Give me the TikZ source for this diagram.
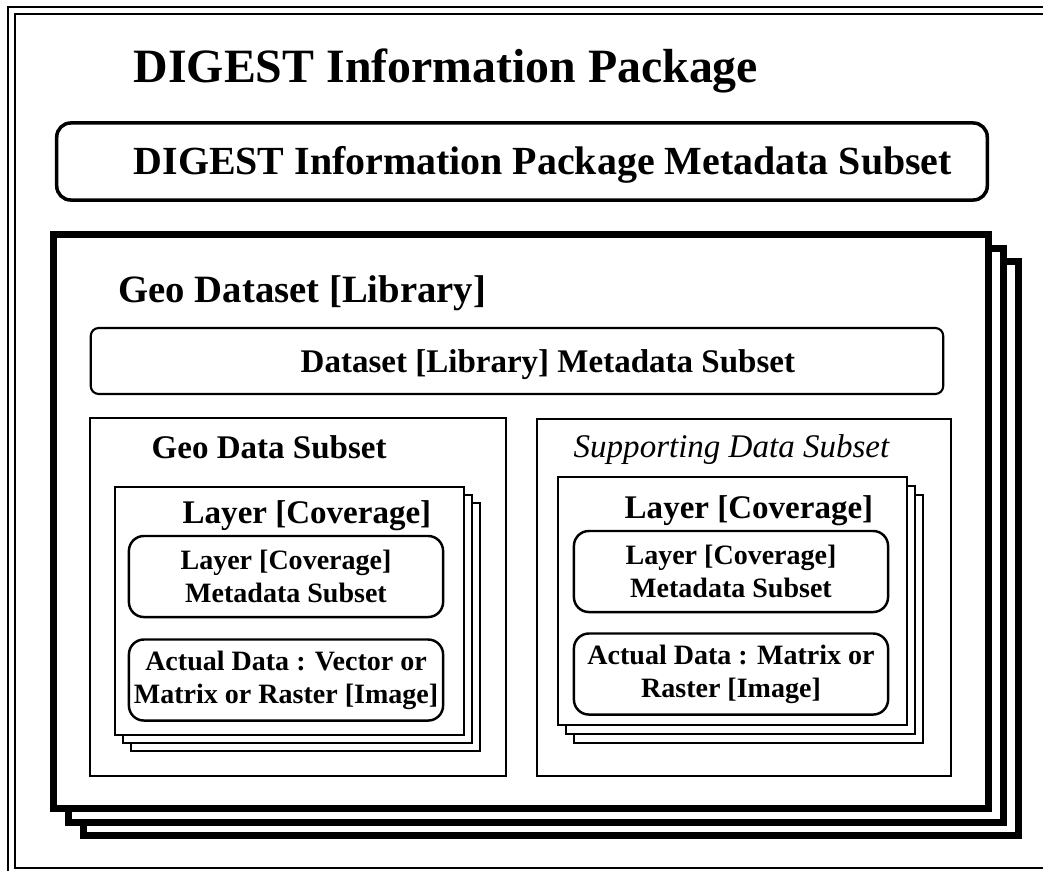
\documentclass[tikz,border=0pt]{standalone}
\usepackage{fontspec}
\setmainfont{Liberation Serif}
\usetikzlibrary{positioning}

\begin{document}
\begin{tikzpicture}[%
    x=0.01cm, y=-0.01cm,        % one unit = one pixel of the sketch
    ]

\tikzset{
  base/.style={draw, fill=white, rectangle, inner sep=0pt, line width=0.6pt},
  heavy/.style={base, line width=2pt},
  layerbox/.style={base, minimum width=3.49cm, minimum height=2.48cm},
  meta/.style={base, rounded corners=0.15cm, line width=0.7pt, align=center,
    minimum width=3.14cm, minimum height=0.81cm,
    font=\bfseries\fontsize{7.97}{9.4}\selectfont},
  headline/.style={anchor=base west, inner sep=0pt,
    font=\bfseries\fontsize{#1}{#1}\selectfont}
  };

\clip (0,0) rectangle (1043,870);

% page frame
\draw[line width=0.6pt] (8,7) rectangle (1090,900);
\draw[line width=0.6pt] (15,14) rectangle (1080,868);

% PACKAGE
\node[headline=13.6] (pkg) at (133,83) {DIGEST Information Package};

\node[base, rounded corners=0.14cm, line width=1pt, minimum width=9.30cm,
  minimum height=0.77cm] (pkgmeta) at (522,161.5) {};
\node[headline=11.35] (pkgmetatext) at (133,175) {DIGEST Information Package Metadata Subset};

% DATASET stack
\foreach \k in {2,1,0}
  \node[heavy, minimum width=9.35cm, minimum height=5.735cm] (geo\k)
    at ({521+15*\k},{521.75+13.5*\k}) {};

\node[headline=11] (geotitle) at (118,302) {Geo Dataset [Library]};

\node[base, rounded corners=0.08cm, minimum width=8.52cm, minimum height=0.66cm]
  (dsmeta) at (517,361) {};
\node[headline=9.39] (dsmetatext) at (300,372) {Dataset [Library] Metadata Subset};

% Geo data subset
\node[base, minimum width=4.16cm, minimum height=3.58cm] (geosub) at (298,597) {};
\node[headline=9.39] (geosubtext) at (151,458) {Geo Data Subset};

\foreach \k in {2,1,0}
  \node[layerbox] (llayer\k) at ({289.5+8*\k},{611+8*\k}) {};
\node[headline=9.39] (llayertext) at (182,523) {Layer [Coverage]};

\node[meta] (lmeta) at (286,576.5) {Layer [Coverage]\\Metadata Subset};
\node[meta, below=0.2cm of lmeta] (ldata) {Actual Data : Vector or\\Matrix or Raster [Image]};

% Supporting data subset
\node[base, minimum width=4.14cm, minimum height=3.57cm] (supsub) at (744,597.5) {};
\node[anchor=base west, inner sep=0pt, font=\itshape\fontsize{9.39}{9.39}\selectfont]
  (supsubtext) at (573,457) {Supporting Data Subset};

\foreach \k in {2,1,0}
  \node[layerbox] (rlayer\k) at ({732.5+8*\k},{601+9*\k}) {};
\node[headline=9.39] (rlayertext) at (624,518) {Layer [Coverage]};

\node[meta] (rmeta) at (731,571.5) {Layer [Coverage]\\Metadata Subset};
\node[meta, below=0.19cm of rmeta] (rdata) {Actual Data : Matrix or\\Raster [Image]};

\end{tikzpicture}
\end{document}
